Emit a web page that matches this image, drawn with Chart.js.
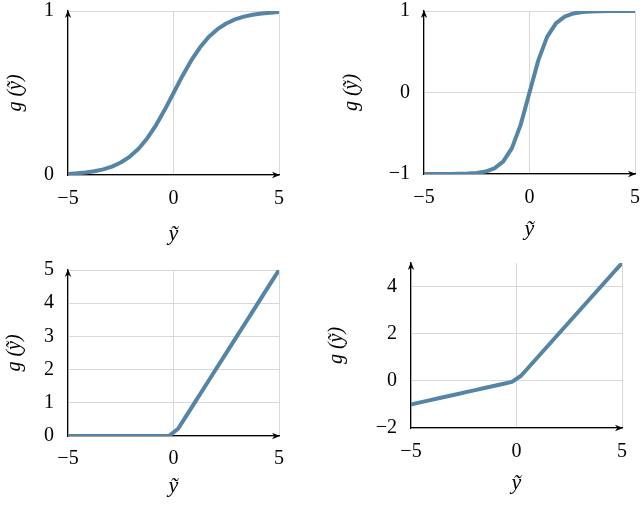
<!DOCTYPE html>
<html>
<head>
<meta charset="utf-8">
<script src="https://cdn.jsdelivr.net/npm/chart.js@4.4.1/dist/chart.umd.min.js"></script>
<style>
html,body{margin:0;padding:0;background:#fff;width:640px;height:508px;overflow:hidden;position:relative;}
canvas{position:absolute;}
</style>
</head>
<body>
<canvas id="c1" width="300" height="254" style="left:0;top:0;width:300px;height:254px"></canvas>
<canvas id="c2" width="340" height="254" style="left:320px;top:0;width:340px;height:254px"></canvas>
<canvas id="c3" width="300" height="254" style="left:0;top:254px;width:300px;height:254px"></canvas>
<canvas id="c4" width="320" height="254" style="left:320px;top:254px;width:320px;height:254px"></canvas>
<script>
// x samples (sigmoid / tanh panels)
const xSmooth = [-5,-4.5833,-4.1667,-3.75,-3.3333,-2.9167,-2.5,-2.0833,-1.6667,-1.25,-0.8333,-0.4167,0,0.4167,0.8333,1.25,1.6667,2.0833,2.5,2.9167,3.3333,3.75,4.1667,4.5833,5];
const sigmoidVals = [0.0067,0.0101,0.0153,0.0230,0.0344,0.0513,0.0759,0.1107,0.1589,0.2227,0.3029,0.3973,0.5,0.6027,0.6971,0.7773,0.8411,0.8893,0.9241,0.9487,0.9656,0.9770,0.9847,0.9899,0.9933];
const tanhVals = [-0.9999,-0.9998,-0.9995,-0.9989,-0.9975,-0.9942,-0.9866,-0.9695,-0.9311,-0.8483,-0.6822,-0.3941,0,0.3941,0.6822,0.8483,0.9311,0.9695,0.9866,0.9942,0.9975,0.9989,0.9995,0.9998,0.9999];
// x samples (ReLU panels)
const xRelu = [-5,-4.5652,-4.1304,-3.6957,-3.2609,-2.8261,-2.3913,-1.9565,-1.5217,-1.0870,-0.6522,-0.2174,0.2174,0.6522,1.0870,1.5217,1.9565,2.3913,2.8261,3.2609,3.6957,4.1304,4.5652,5];
const reluVals = [0,0,0,0,0,0,0,0,0,0,0,0,0.2174,0.6522,1.0870,1.5217,1.9565,2.3913,2.8261,3.2609,3.6957,4.1304,4.5652,5];
const leakyVals = [-1,-0.9130,-0.8261,-0.7391,-0.6522,-0.5652,-0.4783,-0.3913,-0.3043,-0.2174,-0.1304,-0.0435,0.2174,0.6522,1.0870,1.5217,1.9565,2.3913,2.8261,3.2609,3.6957,4.1304,4.5652,5];
// tick values
const xTicks = [-5,0,5];
const yTicks1 = [0,1];
const yTicks2 = [-1,0,1];
const yTicks3 = [0,1,2,3,4,5];
const yTicks4 = [-2,0,2,4];
const xTitle = 'ỹ';
const yTitle = 'g (ỹ)';

const LINE = 'rgb(84,133,167)';
const GRID = '#d8d8d8';
const FONT = "'Liberation Serif', 'DejaVu Serif', serif";

const arrowPlugin = {
  id: 'arrows',
  afterDraw(chart) {
    const {ctx, chartArea: a} = chart;
    ctx.save();
    ctx.fillStyle = '#000';
    const L = 8, W = 3.2;
    ctx.beginPath();
    ctx.moveTo(a.left, a.top - 1);
    ctx.lineTo(a.left - W, a.top - 1 + L);
    ctx.lineTo(a.left, a.top - 1 + L * 0.7);
    ctx.lineTo(a.left + W, a.top - 1 + L);
    ctx.closePath();
    ctx.fill();
    ctx.beginPath();
    ctx.moveTo(a.right + 1, a.bottom);
    ctx.lineTo(a.right + 1 - L, a.bottom - W);
    ctx.lineTo(a.right + 1 - L * 0.7, a.bottom);
    ctx.lineTo(a.right + 1 - L, a.bottom + W);
    ctx.closePath();
    ctx.fill();
    ctx.restore();
  }
};

function fmt(v) { return String(v).replace('-', '\u2212'); }

function makeChart(id, xs, ys, yMin, yMax, yTickList, p) {
  const pts = xs.map((x, i) => ({x: x, y: ys[i]}));
  return new Chart(document.getElementById(id), {
    type: 'line',
    data: { datasets: [{ data: pts, borderColor: LINE, borderWidth: 4, pointRadius: 0, tension: 0, borderJoinStyle: 'round', fill: false }] },
    plugins: [arrowPlugin],
    options: {
      responsive: false,
      animation: false,
      events: [],
      layout: { padding: p.pad },
      plugins: { legend: { display: false }, tooltip: { enabled: false } },
      scales: {
        x: {
          type: 'linear', min: -5, max: 5,
          afterBuildTicks: s => { s.ticks = xTicks.map(v => ({value: v})); },
          afterFit: s => { s.height = p.xh; s.paddingLeft = 0; s.paddingRight = 0; s.paddingTop = 0; s.paddingBottom = 0; },
          grid: { color: GRID, lineWidth: 1, drawTicks: false },
          border: { color: '#000', width: 1.2 },
          ticks: { padding: p.xtp, color: '#000', font: { family: FONT, size: 20 }, maxRotation: 0, callback: v => fmt(v) },
          title: { display: true, text: xTitle, color: '#000', font: { family: FONT, size: 22, style: 'italic' }, padding: { top: 0, bottom: p.xtb } }
        },
        y: {
          type: 'linear', min: yMin, max: yMax,
          afterBuildTicks: s => { s.ticks = yTickList.map(v => ({value: v})); },
          afterFit: s => { s.width = p.yw; s.paddingLeft = 0; s.paddingRight = 0; s.paddingTop = 0; s.paddingBottom = 0; },
          grid: { color: GRID, lineWidth: 1, drawTicks: false },
          border: { color: '#000', width: 1.2 },
          ticks: { padding: 14, color: '#000', font: { family: FONT, size: 20 }, callback: v => fmt(v) },
          title: { display: true, text: yTitle, color: '#000', font: { family: FONT, size: 20, style: 'italic' }, padding: { top: p.ytp, bottom: 0 } }
        }
      }
    }
  });
}

makeChart('c1', xSmooth, sigmoidVals, 0, 1, yTicks1, { pad: {left:0, top:11, right:21, bottom:0}, xh: 79, yw: 68, xtp: 12, xtb: 7, ytp: 4 });
makeChart('c2', xSmooth, tanhVals, -1, 1, yTicks2, { pad: {left:0, top:11, right:25, bottom:0}, xh: 80, yw: 104, xtp: 12, xtb: 12, ytp: 20 });
makeChart('c3', xRelu, reluVals, 0, 5, yTicks3, { pad: {left:0, top:16, right:21, bottom:0}, xh: 72, yw: 68, xtp: 11, xtb: 9, ytp: 3 });
makeChart('c4', xRelu, leakyVals, -2, 5, yTicks4, { pad: {left:0, top:9, right:18, bottom:0}, xh: 80, yw: 91, xtp: 12, xtb: 12, ytp: 5 });
</script>
</body>
</html>
